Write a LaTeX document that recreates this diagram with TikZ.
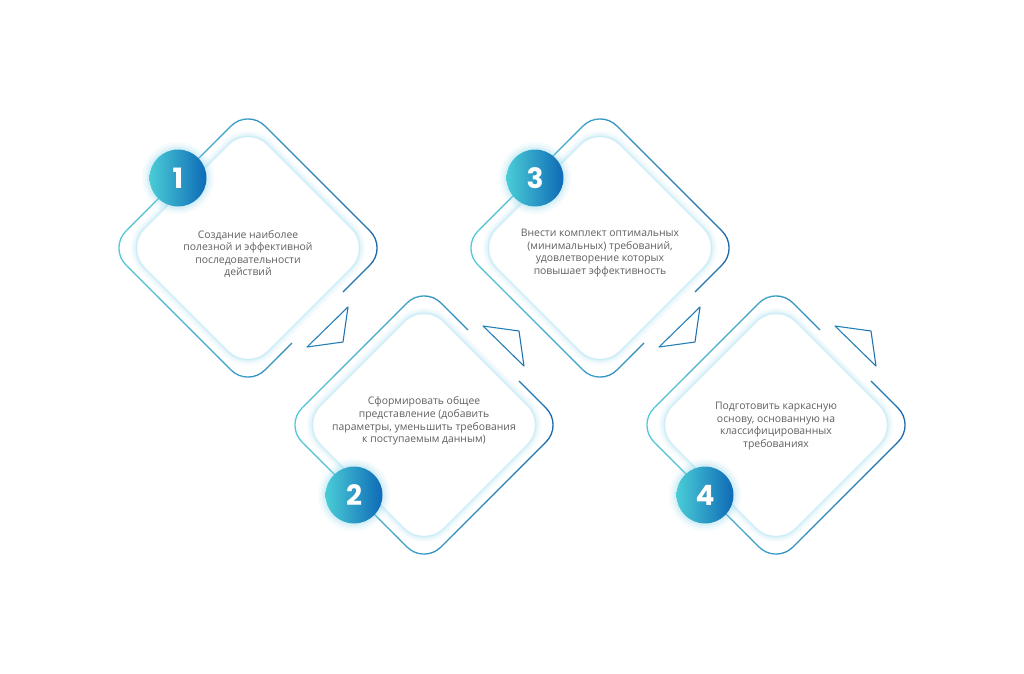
\documentclass[tikz,border=0pt]{standalone}
\usepackage{fontspec}
\setmainfont{Open Sans}
\newfontfamily\numfont{Poppins}
\usetikzlibrary{positioning}
\definecolor{ringcyan}{RGB}{84,200,216}
\definecolor{ringblue}{RGB}{24,106,174}
\definecolor{dotcyan}{RGB}{74,204,214}
\definecolor{dotblue}{RGB}{14,106,182}
\definecolor{glowblue}{RGB}{140,212,234}
\definecolor{textgrey}{RGB}{96,96,96}

\begin{document}
\begin{tikzpicture}[x=1pt, y=-1pt,
    steptext/.style={align=center, text=textgrey,
        font=\fontsize{10.4}{12.6}\selectfont},
    numdot/.style={circle, minimum size=57pt, inner sep=0pt,
        left color=dotcyan, right color=dotblue, text=white,
        font=\numfont\bfseries\fontsize{28}{28}\selectfont},
    ring/.style={line width=1.3pt, rounded corners=24pt},
    pointer/.style={line width=1.1pt, line join=round},
    plate/.style={rounded corners=27pt}
]
    \useasboundingbox (0,0) rectangle (1024,673);

    % four steps: centre x / centre y / flip / badge shift / number
    \foreach \cx/\cy/\f/\dx/\k in {248/248/1/-70/1, 424/425/-1/-70/2, 600/248/1/-65/3, 776/425/-1/-71/4}{
      \begin{scope}[shift={(\cx,\cy)}, yscale=\f]
        % outer outline with a gap, coloured cyan to blue
        \foreach \s in {0,...,9}{
          \pgfmathtruncatemacro\mixv{100-\s*11}
          \begin{scope}
            \clip (-150+\s*30,-150) rectangle ++(30,300);
            \draw[ring, ringcyan!\mixv!ringblue]
                (44,95) -- (0,139) -- (-139,0) -- (0,-139) -- (139,0) -- (95,44);
            \draw[pointer, ringcyan!\mixv!ringblue]
                (100,59) -- (95,94) -- (59,99) -- cycle;
          \end{scope}
        }
        % inner plate with soft glow
        \foreach \w/\o in {14/.05, 10/.09, 6/.14, 3/.22}
          \draw[plate, glowblue, line width=\w, opacity=\o]
              (0,-122) -- (122,0) -- (0,122) -- (-122,0) -- cycle;
        \fill[plate, white] (0,-122) -- (122,0) -- (0,122) -- (-122,0) -- cycle;
        % number badge
        \foreach \r/\o in {36/.08, 33.5/.12, 31/.18}
          \fill[glowblue, opacity=\o] (\dx,-70) circle (\r);
        \node[numdot] (num\k) at (\dx,-70) {\k};
      \end{scope}
    }

    % texts
    \node[steptext] (txt1) at (248,254) {Создание наиболее\\полезной и эффективной\\последовательности\\действий};
    \node[steptext] (txt2) at (424,421) {Сформировать общее\\представление (добавить\\параметры, уменьшить требования\\к поступаемым данным)};
    \node[steptext] (txt3) at (600,253) {Внести комплект оптимальных\\(минимальных) требований,\\удовлетворение которых\\повышает эффективность};
    \node[steptext] (txt4) at (776,426) {Подготовить каркасную\\основу, основанную на\\классифицированных\\требованиях};
\end{tikzpicture}
\end{document}
